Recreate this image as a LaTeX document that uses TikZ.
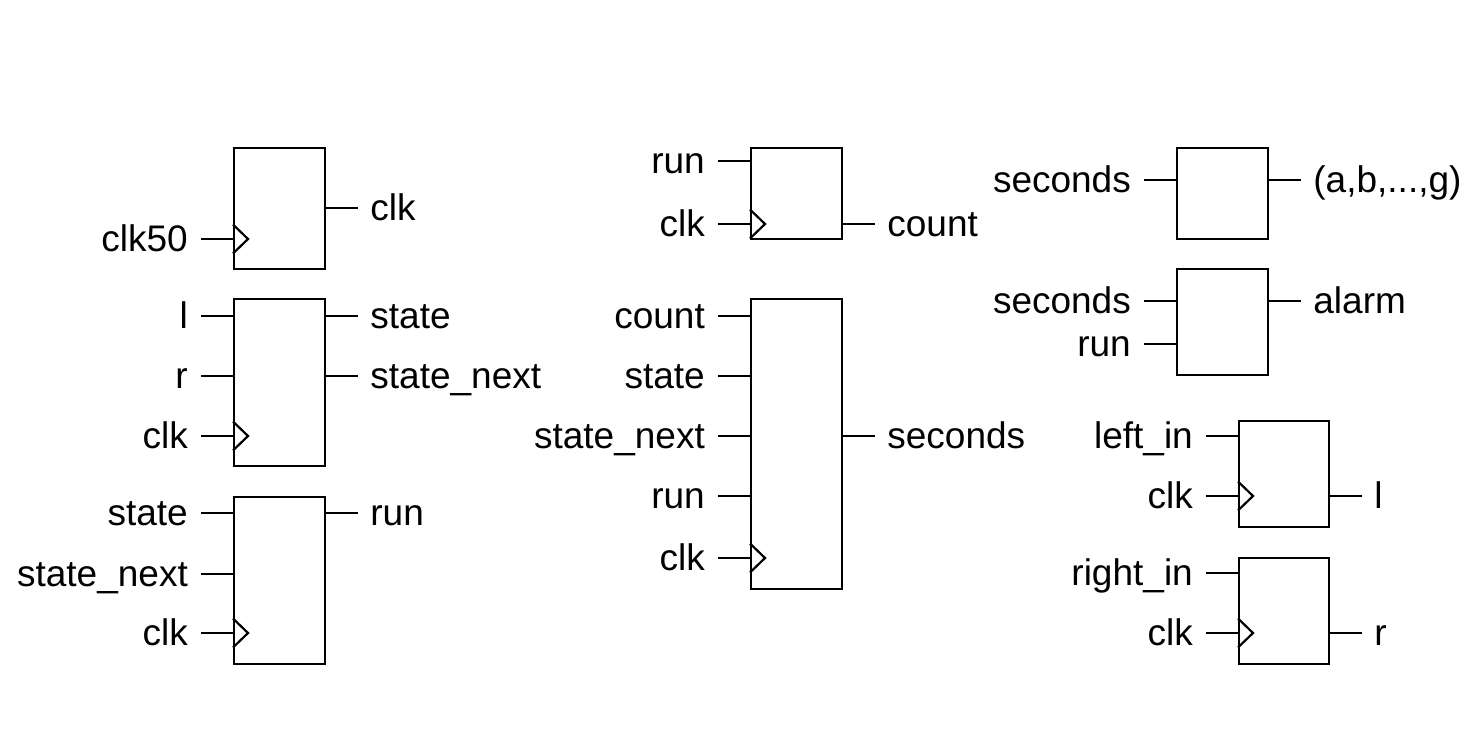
\documentclass[tikz,border=0pt]{standalone}
\usepackage{fontspec}
\setmainfont{Liberation Sans}
\usetikzlibrary{positioning}

\tikzset{
  wire/.style={line width=2.2pt, line cap=rect},
  blk/.style={draw, line width=2.2pt, inner sep=0pt, anchor=north west},
  sig/.style={inner sep=0pt, font=\fontsize{37}{41}\selectfont},
}

% input pin: box, y, text, name
\newcommand{\inpin}[4]{%
  \path (#1.west |- 0,#2) coordinate (#4-b) ++(-31,0) coordinate (#4-e);
  \draw[wire] (#4-e) -- (#4-b);
  \node[sig, anchor=base east] (#4) at ([xshift=-14pt, yshift=-12pt]#4-e) {#3};
}
% output pin: box, y, text, name
\newcommand{\outpin}[4]{%
  \path (#1.east |- 0,#2) coordinate (#4-b) ++(31,0) coordinate (#4-e);
  \draw[wire] (#4-b) -- (#4-e);
  \node[sig, anchor=base west] (#4) at ([xshift=13pt, yshift=-12pt]#4-e) {#3};
}
% clock wedge: box, pin name
\newcommand{\clkmark}[2]{%
  \draw[wire, line cap=butt] ([yshift=14.5pt]#2-b) -- ++(15,14.5) -- ++(-15,14.5);
}

\begin{document}
\begin{tikzpicture}[x=1pt, y=-1pt]
    \useasboundingbox (0,0) rectangle (1482,728);

    % left column
    \node[blk, minimum width=91pt, minimum height=121pt] (div) at (233,147) {};
    \inpin{div}{239}{clk50}{div-i1} \clkmark{div}{div-i1}
    \outpin{div}{208}{clk}{div-o1}

    \node[blk, minimum width=91pt, minimum height=167pt] (fsm) at (233,298) {};
    \inpin{fsm}{316}{l}{fsm-i1}
    \inpin{fsm}{376}{r}{fsm-i2}
    \inpin{fsm}{436}{clk}{fsm-i3} \clkmark{fsm}{fsm-i3}
    \outpin{fsm}{316}{state}{fsm-o1}
    \outpin{fsm}{376}{state\_next}{fsm-o2}

    \node[blk, minimum width=91pt, minimum height=167pt] (ctl) at (233,496) {};
    \inpin{ctl}{513}{state}{ctl-i1}
    \inpin{ctl}{574}{state\_next}{ctl-i2}
    \inpin{ctl}{633}{clk}{ctl-i3} \clkmark{ctl}{ctl-i3}
    \outpin{ctl}{513}{run}{ctl-o1}

    % middle column
    \node[blk, minimum width=91pt, minimum height=91pt] (cnt) at (750,147) {};
    \inpin{cnt}{161}{run}{cnt-i1}
    \inpin{cnt}{224}{clk}{cnt-i2} \clkmark{cnt}{cnt-i2}
    \outpin{cnt}{224}{count}{cnt-o1}

    \node[blk, minimum width=91pt, minimum height=290pt] (sec) at (750,298) {};
    \inpin{sec}{316}{count}{sec-i1}
    \inpin{sec}{376}{state}{sec-i2}
    \inpin{sec}{436}{state\_next}{sec-i3}
    \inpin{sec}{496}{run}{sec-i4}
    \inpin{sec}{558}{clk}{sec-i5} \clkmark{sec}{sec-i5}
    \outpin{sec}{436}{seconds}{sec-o1}

    % right column
    \node[blk, minimum width=91pt, minimum height=91pt] (seg) at (1176,147) {};
    \inpin{seg}{180}{seconds}{seg-i1}
    \outpin{seg}{180}{(a,b,...,g)}{seg-o1}

    \node[blk, minimum width=91pt, minimum height=106pt] (alm) at (1176,268) {};
    \inpin{alm}{301}{seconds}{alm-i1}
    \inpin{alm}{344}{run}{alm-i2}
    \outpin{alm}{301}{alarm}{alm-o1}

    \node[blk, minimum width=90pt, minimum height=106pt] (lsy) at (1238,420) {};
    \inpin{lsy}{436}{left\_in}{lsy-i1}
    \inpin{lsy}{496}{clk}{lsy-i2} \clkmark{lsy}{lsy-i2}
    \outpin{lsy}{496}{l}{lsy-o1}

    \node[blk, minimum width=90pt, minimum height=106pt] (rsy) at (1238,557) {};
    \inpin{rsy}{573}{right\_in}{rsy-i1}
    \inpin{rsy}{633}{clk}{rsy-i2} \clkmark{rsy}{rsy-i2}
    \outpin{rsy}{633}{r}{rsy-o1}
\end{tikzpicture}
\end{document}
